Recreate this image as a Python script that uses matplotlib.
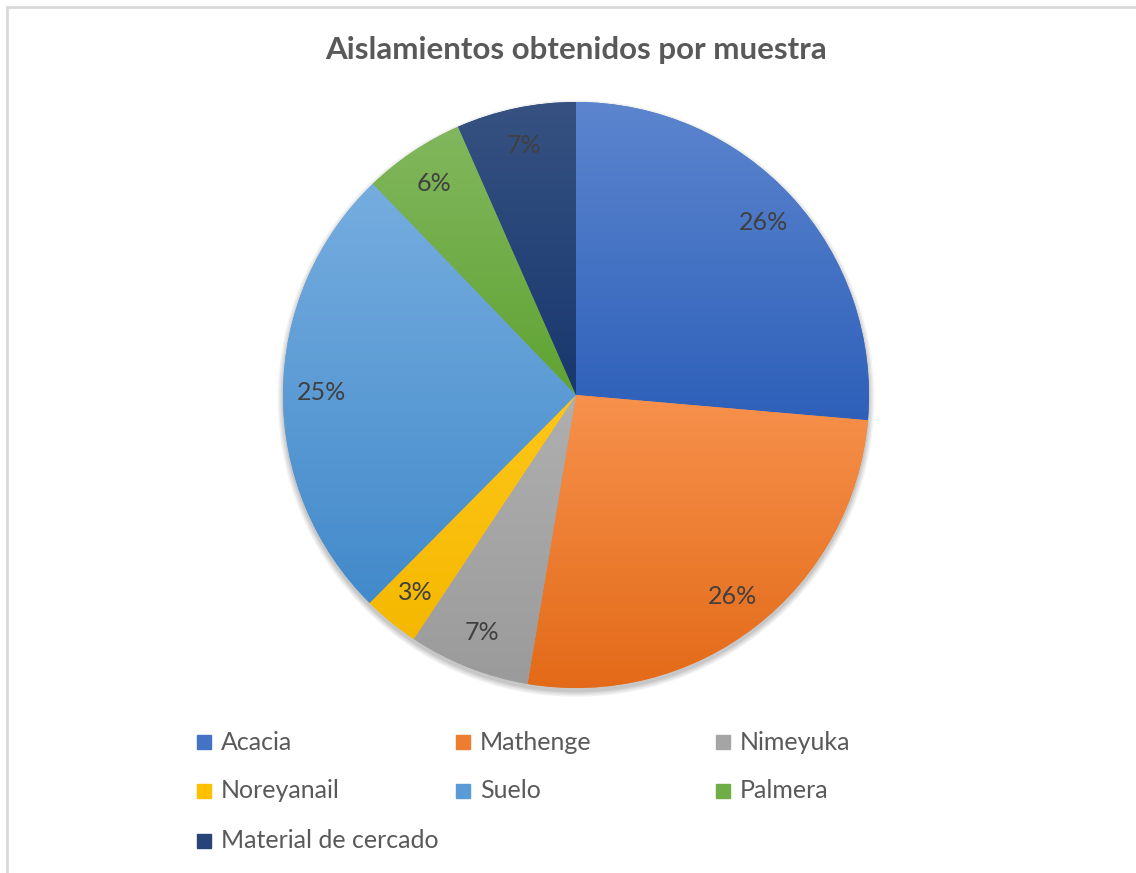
import numpy as np
import matplotlib
matplotlib.use("Agg")
import matplotlib.pyplot as plt
from matplotlib.colors import LinearSegmentedColormap, to_rgb, rgb_to_hsv, hsv_to_rgb
from matplotlib.patches import Rectangle, Circle
from matplotlib.lines import Line2D

plt.rcParams['font.family'] = ['Lato', 'DejaVu Sans']

# data (percent of isolates)
categories = ["Acacia", "Mathenge", "Nimeyuka", "Noreyanail", "Suelo", "Palmera", "Material de cercado"]
values = [26.4, 26.3, 6.7, 3.1, 25.4, 5.6, 6.6]
colors = ["#4472C4", "#ED7D31", "#A5A5A5", "#FFC000", "#5B9BD5", "#70AD47", "#264478"]
title = "Aislamientos obtenidos por muestra"

W, H = 1136, 873
fig = plt.figure(figsize=(W / 100, H / 100), dpi=100)

# frame lines (light grey, top and left only visible)
fig.add_artist(Line2D([7 / W, 7 / W], [0, 1 - 7 / H], color="#d9d9d9", lw=2))
fig.add_artist(Line2D([7 / W, 1], [1 - 7 / H, 1 - 7 / H], color="#d9d9d9", lw=2))

cx, cy, r = 576, 395, 293
half = 320
ax = fig.add_axes([(cx - half) / W, (H - cy - half) / H, 2 * half / W, 2 * half / H])
ax.axis("off")

# soft shadow under the pie
for k, a in enumerate([0.05, 0.05, 0.06, 0.07]):
    ax.add_patch(Circle((0, -0.012), 1.018 - k * 0.005, color="black", alpha=a, lw=0, zorder=0))

wedges, texts, autotexts = ax.pie(values, colors=colors, startangle=90, counterclock=False,
                                  radius=1, autopct="%1.0f%%", pctdistance=0.87,
                                  wedgeprops=dict(linewidth=0),
                                  textprops=dict(fontsize=18, color="#404040"))


def shade(c, ds, dv):
    hsv = rgb_to_hsv(np.array(to_rgb(c)))
    if hsv[1] > 0.05:  # leave greys grey
        hsv[1] = np.clip(hsv[1] + ds, 0, 1)
    hsv[2] = np.clip(hsv[2] + dv, 0, 1)
    return hsv_to_rgb(hsv)


# per-slice vertical gradient: lighter at the top, more saturated at the bottom
grad = np.linspace(1, 0, 256).reshape(-1, 1)
for w, c in zip(wedges, colors):
    ang = np.radians(np.linspace(w.theta1, w.theta2, 200))
    xs = np.concatenate([[0], np.cos(ang)])
    ys = np.concatenate([[0], np.sin(ang)])
    top = shade(c, -0.1, 0.04)
    bot = shade(c, 0.1, -0.04)
    cmap = LinearSegmentedColormap.from_list("g", [bot, top])
    im = ax.imshow(grad, cmap=cmap, extent=[xs.min(), xs.max(), ys.min(), ys.max()],
                   origin="upper", aspect="auto", zorder=1.5, vmin=0, vmax=1)
    im.set_clip_path(w)
for t in autotexts:
    t.set_zorder(3)

lim = half / r
ax.set_xlim(-lim, lim)
ax.set_ylim(-lim, lim)
ax.set_aspect("equal")

fig.text(576 / W, 1 - 50 / H, title, ha="center", va="center",
         fontsize=22.5, fontweight="bold", color="#595959")

# legend, row-major like the original
col_x = [197, 456, 716]
row_y = [742, 791, 841]
for i, (lab, c) in enumerate(zip(categories, colors)):
    x = col_x[i % 3]
    y = row_y[i // 3]
    fig.add_artist(Rectangle((x / W, (H - y - 7) / H), 14 / W, 14 / H, color=c,
                             transform=fig.transFigure))
    fig.text((x + 24) / W, 1 - y / H, lab, ha="left", va="center",
             fontsize=18, color="#595959")

fig.savefig("out.png", dpi=100)
